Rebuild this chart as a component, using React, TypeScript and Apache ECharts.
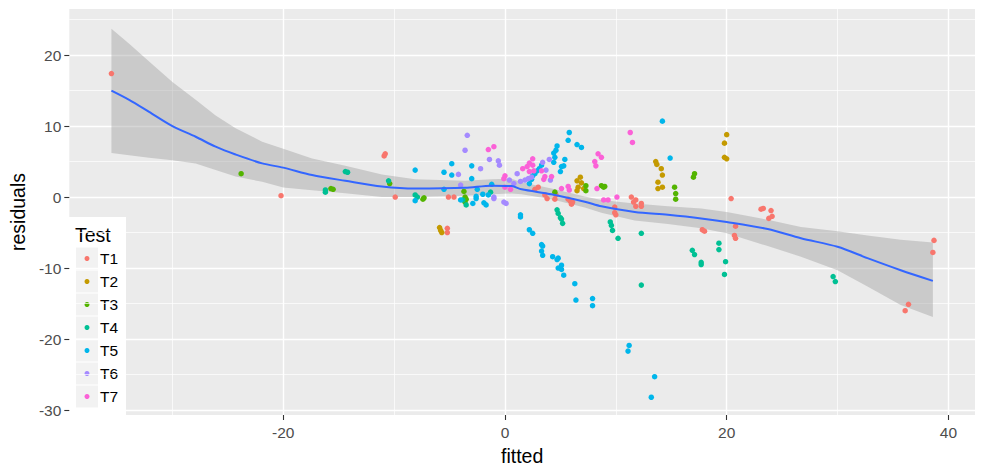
import React, { useEffect, useRef } from "react";
import * as echarts from "echarts";

const FONT = "'Liberation Sans', Arial, Helvetica, sans-serif";

const testNames = ["T1", "T2", "T3", "T4", "T5", "T6", "T7"];
const testColors = ["#F8766D", "#C49A00", "#53B400", "#00C094", "#00B6EB", "#A58AFF", "#FB61D7"];

const t1 = [[-35.5,17.4],[-20.2,0.2],[-10.9,5.8],[-10.8,6.1],[-9.9,0.0],[-5.1,0.0],[-4.6,0.0],[-5.2,-4.4],[-5.2,-5.0],[2.7,1.1],[3.0,1.4],[3.6,0.3],[3.8,-0.2],[4.5,-0.3],[4.6,0.3],[5.7,-0.3],[5.9,-0.6],[6.0,-1.0],[6.1,-0.7],[9.9,-1.4],[9.9,-2.2],[10.0,-2.5],[11.4,0.0],[11.6,-0.7],[11.8,-0.4],[12.3,-0.9],[12.3,-1.3],[11.8,-1.3],[17.8,-4.6],[18.0,-4.8],[20.4,-0.2],[20.8,-4.1],[20.7,-5.4],[20.8,-5.8],[23.1,-1.7],[23.3,-1.6],[24.0,-1.9],[23.8,-3.0],[24.1,-2.7],[36.4,-15.1],[36.1,-16.0],[38.7,-6.1],[38.6,-7.8]];
const t2 = [[-5.9,-4.3],[-5.7,-5.0],[-5.8,-4.7],[6.5,2.3],[6.8,2.8],[6.9,2.0],[6.6,1.4],[6.5,0.9],[7.1,1.2],[13.6,5.0],[13.7,4.6],[14.1,4.0],[14.2,3.1],[13.8,2.1],[13.8,1.2],[14.2,1.4],[20.0,8.8],[19.8,7.6],[19.8,5.6],[20.0,5.4]];
const t3 = [[-23.8,3.3],[-15.7,1.2],[-15.5,1.1],[-10.4,1.9],[-7.4,-0.3],[-7.3,-0.1],[-3.7,0.8],[-3.6,0.0],[-3.6,-0.7],[-3.5,-0.3],[4.5,0.7],[7.3,1.6],[7.3,0.9],[8.7,1.6],[8.9,1.4],[9.0,1.5],[15.3,1.4],[15.4,0.5],[15.4,-0.3],[17.1,3.3],[17.0,2.8]];
const t4 = [[-16.2,1.0],[-16.2,0.7],[-14.4,3.6],[-14.2,3.5],[-10.5,2.3],[-8.1,0.3],[-7.9,0.0],[-3.8,-0.4],[-3.5,-1.1],[-1.3,0.7],[4.7,-1.8],[4.8,-2.3],[5.0,-2.9],[5.1,-3.1],[5.2,-3.7],[9.5,-3.5],[9.6,-4.0],[9.7,-4.7],[10.2,-5.8],[12.3,-5.1],[12.3,-12.4],[16.9,-7.5],[17.1,-8.1],[17.7,-9.2],[17.7,-9.5],[19.3,-6.5],[19.3,-7.4],[19.9,-9.1],[19.8,-10.9],[29.6,-11.2],[29.8,-11.9]];
const t5 = [[-8.1,3.8],[-8.1,-0.5],[-5.5,3.5],[-5.5,1.1],[-4.8,4.7],[-4.8,3.1],[-4.0,-0.4],[-3.0,4.4],[-3.0,2.6],[-2.9,-0.9],[-2.5,1.1],[-2.6,0.1],[-2.6,-0.2],[-2.0,0.4],[-1.5,0.3],[-1.9,-0.8],[-1.7,-1.1],[-1.2,1.8],[1.4,-2.5],[1.4,-2.8],[2.2,-4.6],[2.5,-5.1],[3.3,-6.7],[3.4,-6.9],[3.3,-7.6],[3.4,-8.2],[4.3,-8.4],[4.8,-8.6],[4.7,-8.8],[5.1,-9.6],[4.8,-10.0],[5.1,-10.2],[5.3,-11.0],[6.3,-12.2],[6.4,-14.5],[7.9,-14.3],[7.9,-15.3],[11.2,-20.9],[11.1,-21.7],[13.5,-25.3],[13.2,-28.2],[2.2,1.9],[2.4,2.5],[2.5,3.0],[2.7,3.3],[2.9,3.7],[3.1,4.0],[3.3,4.5],[4.4,4.9],[4.5,5.6],[4.4,6.2],[4.6,6.6],[4.7,7.2],[5.4,5.3],[5.1,4.3],[5.0,3.6],[5.3,4.4],[5.8,9.1],[5.7,8.0],[6.5,7.4],[6.9,7.0],[14.2,10.7],[14.9,5.5]];
const t6 = [[-4.2,3.2],[-3.4,8.7],[-3.6,6.6],[-4.0,1.7],[-2.2,4.0],[-1.4,5.3],[-0.6,5.1],[-0.5,4.5],[-1.0,0.0],[-1.0,-0.2],[-0.1,-0.7],[0.1,-0.9],[0.4,2.4],[0.8,1.9],[1.1,3.3],[1.4,2.2],[1.8,2.4],[2.1,2.6],[2.4,2.8],[3.4,4.9],[3.7,3.8],[4.1,2.4],[4.0,5.3]];
const t7 = [[-1.5,6.7],[-1.0,7.1],[-0.1,2.6],[0.0,3.0],[0.0,1.4],[0.5,1.1],[1.6,4.0],[2.0,4.3],[2.2,4.8],[2.5,5.4],[2.5,4.5],[2.2,3.6],[2.6,3.7],[3.3,3.7],[3.6,2.9],[4.2,2.9],[3.5,2.5],[5.7,1.5],[5.8,1.0],[5.1,1.2],[8.1,5.0],[8.4,6.1],[8.7,5.6],[8.2,4.4],[8.3,1.2],[10.1,0.0],[8.9,-0.4],[9.3,-0.4],[11.3,9.1],[11.5,7.7]];
const testData = [t1, t2, t3, t4, t5, t6, t7];

// loess smoother and its confidence band
const fitX = [-35.5,-33.9,-32.1,-30,-27.9,-26.1,-24.3,-21.9,-20,-17.4,-14.4,-11.1,-8.1,-3.6,-1.2,0.6,1.5,4.2,7.2,8.7,11.7,14.7,17.7,20,23.7,26.7,30,32.7,35.7,38.6];
const fitY = [15.0,13.7,12.0,10.0,8.5,7.1,6.0,4.75,4.15,3.1,2.3,1.5,1.2,1.3,1.6,1.55,1.1,0.4,-0.65,-1.3,-2.1,-2.5,-3.0,-3.5,-4.5,-5.8,-7.0,-8.6,-10.3,-11.8];
const fitUpper = [23.7,21.6,19.1,16.2,13.7,11.5,9.7,7.8,6.8,5.45,4.4,3.2,2.5,2.3,2.5,2.6,2.1,1.2,0.1,-0.4,-0.9,-1.3,-1.6,-2.1,-3.2,-4.2,-4.8,-5.4,-6.0,-6.4];
const fitLower = [6.2,5.9,5.55,5.2,4.75,3.8,2.9,2.15,1.35,0.95,0.55,0.0,0.0,0.2,0.4,0.5,0.4,-0.3,-1.45,-2.2,-3.3,-3.8,-4.4,-5.1,-6.9,-8.4,-10.3,-12.6,-15.2,-16.9];

const xTicks = [-20, 0, 20, 40];
const xMinorTicks = [-30, -10, 10, 30];
const yTicks = [-30, -20, -10, 0, 10, 20];
const yMinorTicks = [-25, -15, -5, 5, 15, 25];
const X_MIN = -39.3, X_MAX = 42.4, Y_MIN = -30.7, Y_MAX = 26.5;

export default function App() {
  const ref = useRef<HTMLDivElement>(null);
  useEffect(() => {
    if (!ref.current) return;
    const chart = echarts.init(ref.current, null, { renderer: "svg" });

    const majorX = {
      type: "value", min: X_MIN, max: X_MAX, gridIndex: 0, position: "bottom",
      axisLine: { show: false, onZero: false },
      axisTick: { show: true, customValues: xTicks, length: 5, lineStyle: { color: "#333333", width: 1.1 } },
      axisLabel: { customValues: xTicks, color: "#4D4D4D", fontSize: 15.5, fontFamily: FONT, margin: 9 },
      splitLine: { show: true, lineStyle: { color: "#FFFFFF", width: 1.4 } },
      name: "fitted", nameLocation: "middle", nameGap: 31,
      nameTextStyle: { color: "#000000", fontSize: 19.5, fontFamily: FONT },
    };
    const minorX = {
      type: "value", min: X_MIN, max: X_MAX, gridIndex: 0, position: "bottom",
      axisLine: { show: false, onZero: false },
      axisTick: { show: false, customValues: xMinorTicks },
      axisLabel: { show: false, customValues: xMinorTicks },
      splitLine: { show: true, lineStyle: { color: "#FFFFFF", width: 0.7 } },
    };
    const majorY = {
      type: "value", min: Y_MIN, max: Y_MAX, gridIndex: 0, position: "left",
      axisLine: { show: false, onZero: false },
      axisTick: { show: true, customValues: yTicks, length: 5, lineStyle: { color: "#333333", width: 1.1 } },
      axisLabel: { customValues: yTicks, color: "#4D4D4D", fontSize: 15.5, fontFamily: FONT, margin: 8 },
      splitLine: { show: true, lineStyle: { color: "#FFFFFF", width: 1.4 } },
      name: "residuals", nameLocation: "middle", nameGap: 35,
      nameTextStyle: { color: "#000000", fontSize: 19.5, fontFamily: FONT },
    };
    const minorY = {
      type: "value", min: Y_MIN, max: Y_MAX, gridIndex: 0, position: "left",
      axisLine: { show: false, onZero: false },
      axisTick: { show: false, customValues: yMinorTicks },
      axisLabel: { show: false, customValues: yMinorTicks },
      splitLine: { show: true, lineStyle: { color: "#FFFFFF", width: 0.7 } },
    };

    const scatterSeries = testNames.map((name, i) => ({
      type: "scatter", name, xAxisIndex: 0, yAxisIndex: 0,
      data: testData[i], symbol: "circle", symbolSize: 5.5,
      itemStyle: { color: testColors[i], opacity: 1 },
      silent: true,
    }));

    const bandSeries = {
      type: "custom", name: "band", xAxisIndex: 0, yAxisIndex: 0,
      data: fitX.map((x, i) => [x, fitLower[i], fitUpper[i]]),
      encode: { x: 0, y: [1, 2] },
      silent: true,
      renderItem: (params: any, api: any) => {
        if (params.dataIndex !== 0) return null;
        const pts: number[][] = [];
        for (let i = 0; i < fitX.length; i++) pts.push(api.coord([fitX[i], fitUpper[i]]));
        for (let i = fitX.length - 1; i >= 0; i--) pts.push(api.coord([fitX[i], fitLower[i]]));
        return { type: "polygon", shape: { points: pts }, style: { fill: "rgba(153,153,153,0.4)" } };
      },
    };

    const lineSeries = {
      type: "line", name: "fit", xAxisIndex: 0, yAxisIndex: 0,
      data: fitX.map((x, i) => [x, fitY[i]]),
      showSymbol: false, smooth: 0.3, silent: true,
      lineStyle: { color: "#3366FF", width: 2 },
    };

    const legendChildren: any[] = [
      { type: "rect", shape: { x: 0, y: 0, width: 59, height: 199 }, style: { fill: "#FFFFFF" } },
      { type: "text", x: 8, y: 18, style: { text: "Test", fontSize: 19.5, fontFamily: FONT, fill: "#000000", verticalAlign: "middle" } },
    ];
    testNames.forEach((n, i) => {
      legendChildren.push({ type: "rect", shape: { x: 9, y: 30.5 + i * 23, width: 22, height: 22 }, style: { fill: "#F2F2F2" } });
      legendChildren.push({ type: "circle", shape: { cx: 20, cy: 41.5 + i * 23, r: 2.5 }, style: { fill: testColors[i] } });
      legendChildren.push({ type: "text", x: 33, y: 41.5 + i * 23, style: { text: n, fontSize: 15.5, fontFamily: FONT, fill: "#000000", verticalAlign: "middle" } });
    });

    chart.setOption({
      animation: false,
      backgroundColor: "#FFFFFF",
      grid: { left: 67, top: 9, width: 908, height: 406, show: true, backgroundColor: "#EBEBEB", borderWidth: 0 },
      xAxis: [majorX, minorX],
      yAxis: [majorY, minorY],
      series: [...scatterSeries, bandSeries, lineSeries],
      graphic: [{ type: "group", x: 67, y: 217, z: 100, children: legendChildren }],
    });
    return () => chart.dispose();
  }, []);
  return <div ref={ref} style={{ position: "fixed", left: 0, top: 0, width: 984, height: 474 }} />;
}
